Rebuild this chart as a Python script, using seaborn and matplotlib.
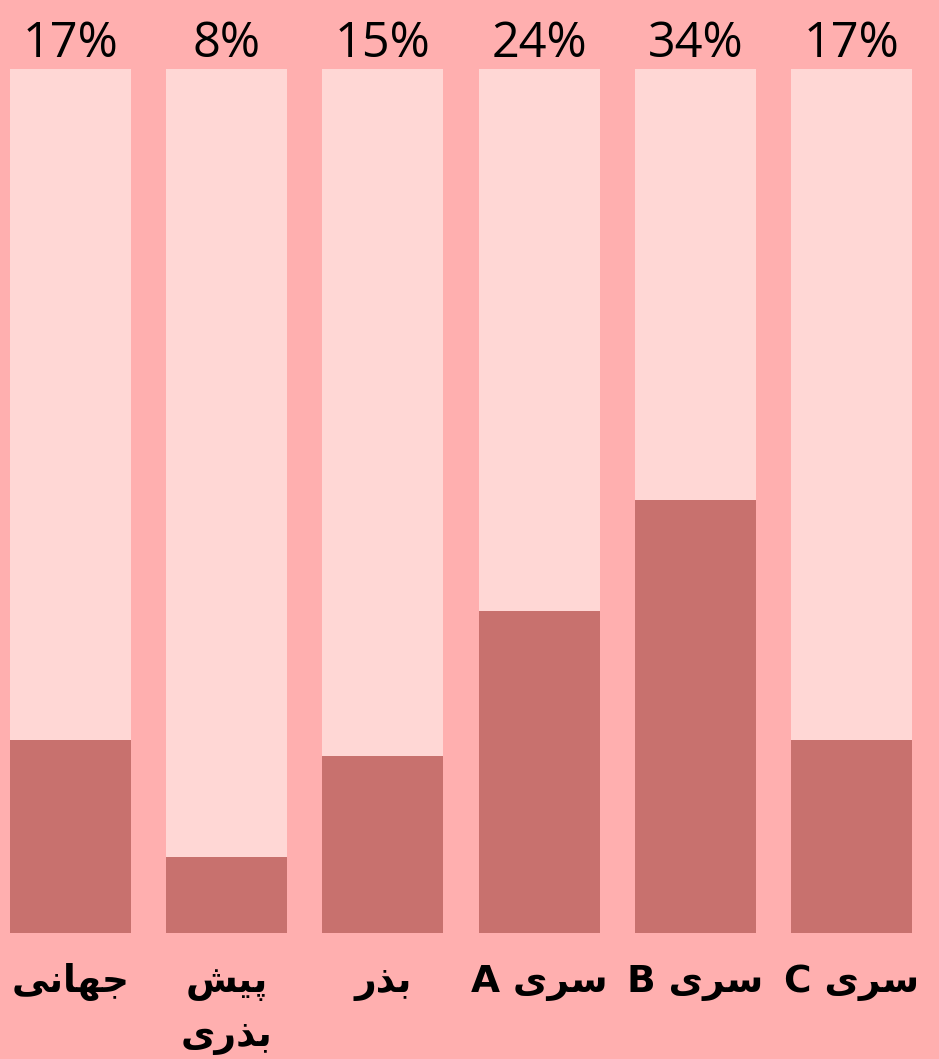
import matplotlib
matplotlib.use("Agg")
import matplotlib.pyplot as plt
import matplotlib.transforms as mtransforms
import seaborn as sns
import pandas as pd

# ---- data ----
categories = ["جهانی", "پیش بذری", "بذر", "سری A", "سری B", "سری C"]
pct_labels = ["17%", "8%", "15%", "24%", "34%", "17%"]
dark_values = [22.3, 8.8, 20.5, 37.3, 50.1, 22.3]   # filled part of each bar
total_values = [100, 100, 100, 100, 100, 100]

BG = "#FFAFAF"
LIGHT = "#FFD7D5"
DARK = "#C8716E"

# ---- minimal Arabic shaping (presentation forms, visual order) ----
FORMS = {  # isolated, final, initial, medial
    "ج": ("\uFE9D", "\uFE9E", "\uFE9F", "\uFEA0"),
    "ه": ("\uFEE9", "\uFEEA", "\uFEEB", "\uFEEC"),
    "ا": ("\uFE8D", "\uFE8E", None, None),
    "ن": ("\uFEE5", "\uFEE6", "\uFEE7", "\uFEE8"),
    "ی": ("\uFEEF", "\uFEF0", "\uFEF3", "\uFEF4"),
    "پ": ("\uFB56", "\uFB57", "\uFB58", "\uFB59"),
    "ش": ("\uFEB5", "\uFEB6", "\uFEB7", "\uFEB8"),
    "ب": ("\uFE8F", "\uFE90", "\uFE91", "\uFE92"),
    "ذ": ("\uFEAB", "\uFEAC", None, None),
    "ر": ("\uFEAD", "\uFEAE", None, None),
    "س": ("\uFEB1", "\uFEB2", "\uFEB3", "\uFEB4"),
}


def shape_word(w):
    if not any(c in FORMS for c in w):
        return w
    out = []
    for i, c in enumerate(w):
        f = FORMS.get(c)
        if f is None:
            out.append(c)
            continue
        prev = w[i - 1] if i > 0 else None
        nxt = w[i + 1] if i + 1 < len(w) else None
        join_prev = prev in FORMS and FORMS[prev][2] is not None
        join_next = nxt in FORMS and f[2] is not None
        if join_prev and join_next:
            out.append(f[3])
        elif join_prev:
            out.append(f[1])
        elif join_next:
            out.append(f[2])
        else:
            out.append(f[0])
    return "".join(reversed(out))


def rtl(line):
    return " ".join(shape_word(w) for w in reversed(line.split(" ")))


def label_lines(s):
    # the long label wraps onto two lines in the reference
    if s == "پیش بذری":
        return [rtl(p) for p in s.split(" ")]
    return [rtl(s)]


df = pd.DataFrame({"category": categories, "total": total_values, "dark": dark_values})

# ---- figure ----
W, H = 939, 1059
fig = plt.figure(figsize=(W / 100, H / 100), dpi=100, facecolor=BG)
bar_top, bar_bot = 69, 933
ax = fig.add_axes([0, (H - bar_bot) / H, 1, (bar_bot - bar_top) / H])
ax.set_facecolor(BG)

step = (851.5 - 70.5) / 5
bw = 121 / step
sns.barplot(data=df, x="category", y="total", color=LIGHT, width=bw,
            saturation=1, ax=ax, linewidth=0)
sns.barplot(data=df, x="category", y="dark", color=DARK, width=bw,
            saturation=1, ax=ax, linewidth=0)

ax.set_xlim(-70.5 / step, (W - 70.5) / step)
ax.set_ylim(0, 100)
ax.set_xlabel("")
ax.set_ylabel("")
ax.set_xticks([])
ax.set_yticks([])
for s in ax.spines.values():
    s.set_visible(False)

trans = mtransforms.blended_transform_factory(ax.transData, ax.transAxes)
span = bar_bot - bar_top
for i, (cat, pl) in enumerate(zip(categories, pct_labels)):
    ax.text(i, (bar_bot - 57) / span, pl, transform=trans, ha="center", va="baseline",
            fontsize=35, family=["Open Sans", "DejaVu Sans"], color="black", clip_on=False)
    for k, line in enumerate(label_lines(cat)):
        ax.text(i, (bar_bot - (992 + 54 * k)) / span, line, transform=trans, ha="center",
                va="baseline", fontsize=27, fontweight="bold", family=["DejaVu Sans"],
                color="black", clip_on=False)

fig.savefig("out.png", dpi=100, facecolor=BG)
